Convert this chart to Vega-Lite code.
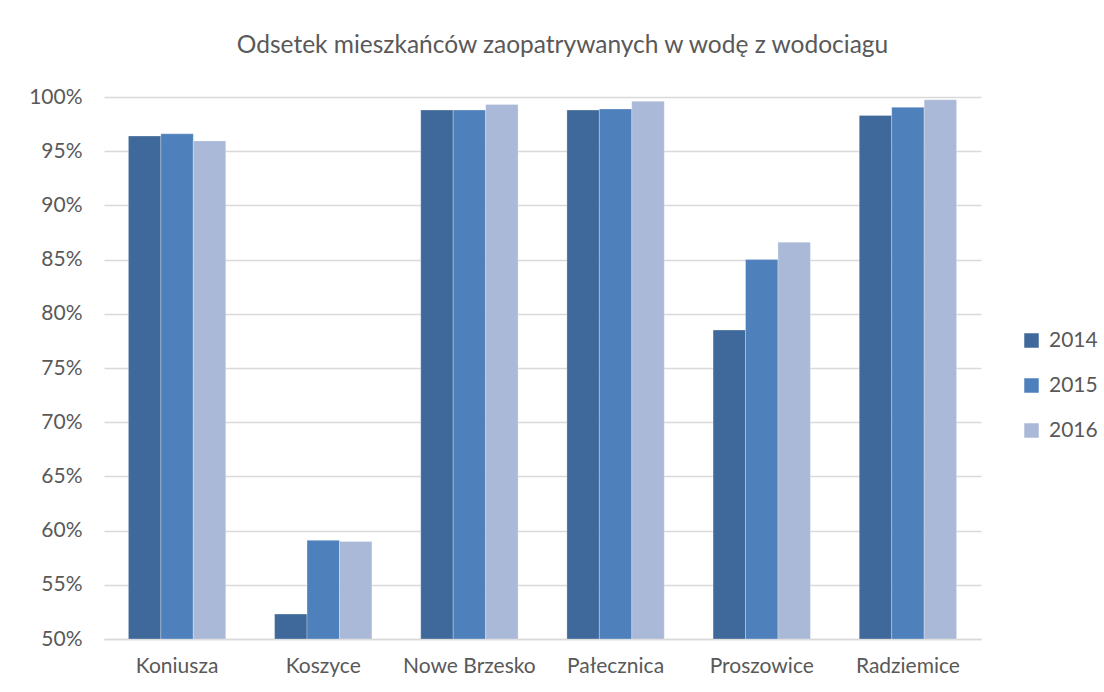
{
  "$schema": "https://vega.github.io/schema/vega-lite/v6.json",
  "autosize": "none",
  "width": 877,
  "height": 542,
  "padding": {"left": 104, "top": 97, "right": 123, "bottom": 53},
  "background": "white",
  "title": {
    "text": "Odsetek mieszkańców zaopatrywanych w wodę z wodociagu",
    "font": "Lato",
    "fontSize": 24.5,
    "fontWeight": "normal",
    "color": "#595959",
    "anchor": "middle",
    "dx": 20,
    "offset": 28
  },
  "data": {
    "values": [
      {"gmina": "Koniusza", "rok": "2014", "v": 0.964},
      {"gmina": "Koniusza", "rok": "2015", "v": 0.966},
      {"gmina": "Koniusza", "rok": "2016", "v": 0.9595},
      {"gmina": "Koszyce", "rok": "2014", "v": 0.523},
      {"gmina": "Koszyce", "rok": "2015", "v": 0.591},
      {"gmina": "Koszyce", "rok": "2016", "v": 0.590},
      {"gmina": "Nowe Brzesko", "rok": "2014", "v": 0.988},
      {"gmina": "Nowe Brzesko", "rok": "2015", "v": 0.988},
      {"gmina": "Nowe Brzesko", "rok": "2016", "v": 0.993},
      {"gmina": "Pałecznica", "rok": "2014", "v": 0.988},
      {"gmina": "Pałecznica", "rok": "2015", "v": 0.989},
      {"gmina": "Pałecznica", "rok": "2016", "v": 0.996},
      {"gmina": "Proszowice", "rok": "2014", "v": 0.785},
      {"gmina": "Proszowice", "rok": "2015", "v": 0.850},
      {"gmina": "Proszowice", "rok": "2016", "v": 0.866},
      {"gmina": "Radziemice", "rok": "2014", "v": 0.983},
      {"gmina": "Radziemice", "rok": "2015", "v": 0.9905},
      {"gmina": "Radziemice", "rok": "2016", "v": 0.9975}
    ]
  },
  "mark": {"type": "bar", "stroke": "#ffffff", "strokeOpacity": 0.35, "strokeWidth": 0.8},
  "encoding": {
    "x": {
      "field": "gmina",
      "type": "nominal",
      "sort": null,
      "scale": {"paddingInner": 0.334, "paddingOuter": 0.167},
      "axis": {
        "title": null,
        "labelAngle": 0,
        "labelFont": "Lato",
        "labelFontSize": 21,
        "labelColor": "#595959",
        "labelPadding": 16,
        "ticks": false,
        "domainColor": "#D9D9D9",
        "domainWidth": 1.5
      }
    },
    "xOffset": {"field": "rok", "type": "nominal", "scale": {"paddingInner": 0, "paddingOuter": 0}},
    "y": {
      "field": "v",
      "type": "quantitative",
      "scale": {"domain": [0.5, 1.0], "zero": false, "clamp": true},
      "axis": {
        "title": null,
        "values": [0.5, 0.55, 0.6, 0.65, 0.7, 0.75, 0.8, 0.85, 0.9, 0.95, 1.0],
        "format": ".0%",
        "labelFont": "Lato",
        "labelFontSize": 21,
        "labelColor": "#595959",
        "labelPadding": 22,
        "ticks": false,
        "domain": false,
        "gridColor": "#D9D9D9",
        "gridWidth": 1.3
      }
    },
    "color": {
      "field": "rok",
      "type": "nominal",
      "scale": {"domain": ["2014", "2015", "2016"], "range": ["#40699B", "#4E80BC", "#AAB9D7"]},
      "legend": {
        "title": null,
        "orient": "none",
        "legendX": 917,
        "legendY": 233,
        "symbolType": "square",
        "symbolSize": 210,
        "symbolStrokeWidth": 0,
        "labelFont": "Lato",
        "labelFontSize": 21,
        "labelColor": "#595959",
        "rowPadding": 23,
        "labelOffset": 7
      }
    }
  },
  "config": {"view": {"stroke": null}}
}
